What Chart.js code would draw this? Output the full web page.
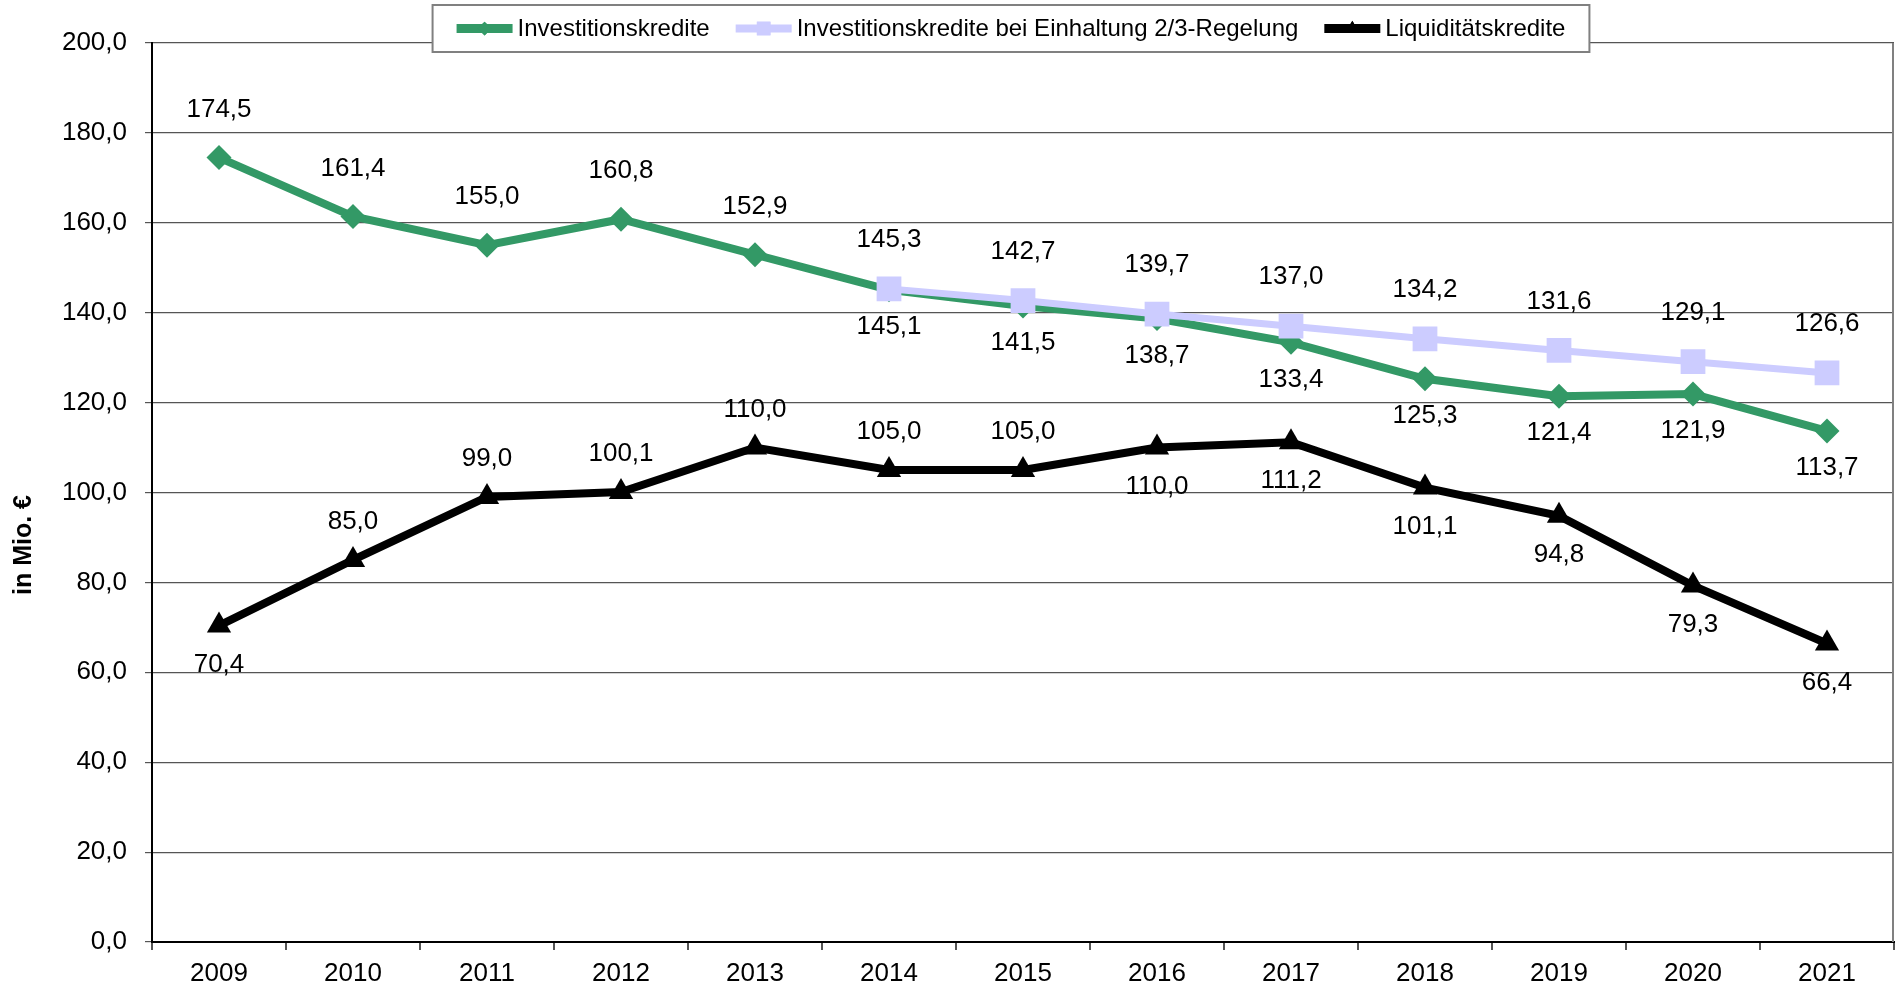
<!DOCTYPE html>
<html>
<head>
<meta charset="utf-8">
<script src="https://cdn.jsdelivr.net/npm/chart.js@4.4.1/dist/chart.umd.min.js"></script>
<style>
  body { margin: 0; background: #fff; }
  canvas { display: block; }
</style>
</head>
<body>
<canvas id="myChart" width="1896" height="990"></canvas>
<script>
// Daten (in Mio. €)
const jahre = ["2009", "2010", "2011", "2012", "2013", "2014", "2015", "2016", "2017", "2018", "2019", "2020", "2021"];
const investitionskredite = [174.5, 161.4, 155.0, 160.8, 152.9, 145.1, 141.5, 138.7, 133.4, 125.3, 121.4, 121.9, 113.7];
const investRegelung = [null, null, null, null, null, 145.3, 142.7, 139.7, 137.0, 134.2, 131.6, 129.1, 126.6];
const liquiditaetskredite = [70.4, 85.0, 99.0, 100.1, 110.0, 105.0, 105.0, 110.0, 111.2, 101.1, 94.8, 79.3, 66.4];

// wo die Beschriftung steht: "o" = oben, "u" = unten
const posInvest = ["o", "o", "o", "o", "o", "u", "u", "u", "u", "u", "u", "u", "u"];
const posRegelung = ["o", "o", "o", "o", "o", "o", "o", "o", "o", "o", "o", "o", "o"];
const posLiquid = ["u", "o", "o", "o", "o", "o", "o", "u", "u", "u", "u", "u", "u"];

const schrift = '"Liberation Sans", Arial, sans-serif';

function komma(v) {
  return v.toFixed(1).replace(".", ",");
}

// Werte an die Punkte schreiben
const wertLabels = {
  id: "wertLabels",
  afterDatasetsDraw(chart) {
    const ctx = chart.ctx;
    ctx.save();
    ctx.font = "26px " + schrift;
    ctx.fillStyle = "#000";
    ctx.textAlign = "center";
    ctx.textBaseline = "middle";
    chart.data.datasets.forEach((ds, i) => {
      const meta = chart.getDatasetMeta(i);
      meta.data.forEach((pt, j) => {
        const v = ds.data[j];
        if (v == null) return;
        const dy = ds.labelPos[j] === "o" ? -ds.abstandOben : ds.abstandUnten;
        ctx.fillText(komma(v), pt.x, pt.y + dy);
      });
    });
    ctx.restore();
  }
};

// Achsentitel, Rahmen rechts + Legende mit Kasten
const rahmenUndLegende = {
  id: "rahmenUndLegende",
  afterDraw(chart) {
    const ctx = chart.ctx;
    const a = chart.chartArea;
    ctx.save();
    ctx.strokeStyle = "#808080";
    ctx.lineWidth = 2;
    ctx.beginPath();
    ctx.moveTo(a.right - 1, a.top);
    ctx.lineTo(a.right - 1, a.bottom);
    ctx.stroke();

    // y-Achsentitel
    ctx.save();
    ctx.translate(24, 545);
    ctx.rotate(-Math.PI / 2);
    ctx.font = "bold 25px " + schrift;
    ctx.fillStyle = "#000";
    ctx.textAlign = "center";
    ctx.textBaseline = "middle";
    ctx.fillText("in Mio. €", 0, 0);
    ctx.restore();

    ctx.font = "24px " + schrift;
    const sample = 56, gap = 5, space = 26, pad = 24;
    const items = chart.data.datasets.map(ds => ({ ds: ds, w: ctx.measureText(ds.label).width }));
    let total = pad * 2 - space;
    items.forEach(it => { total += sample + gap + it.w + space; });
    const boxLeft = 1011 - total / 2;
    const boxTop = 5, boxH = 47;
    ctx.fillStyle = "#fff";
    ctx.fillRect(boxLeft, boxTop, total, boxH);
    ctx.strokeStyle = "#808080";
    ctx.lineWidth = 2;
    ctx.strokeRect(boxLeft, boxTop, total, boxH);

    const cy = boxTop + boxH / 2;
    let x = boxLeft + pad;
    items.forEach(it => {
      const ds = it.ds;
      ctx.strokeStyle = ds.borderColor;
      ctx.lineWidth = ds.borderWidth + 1;
      ctx.beginPath();
      ctx.moveTo(x, cy);
      ctx.lineTo(x + sample, cy);
      ctx.stroke();
      ctx.fillStyle = ds.pointBackgroundColor;
      Chart.helpers.drawPoint(ctx, { pointStyle: ds.pointStyle, radius: ds.pointRadius * 0.55, rotation: 0, borderWidth: 0 }, x + sample / 2, cy);
      ctx.fill();
      ctx.fillStyle = "#000";
      ctx.textAlign = "left";
      ctx.textBaseline = "middle";
      ctx.fillText(ds.label, x + sample + gap, cy + 1);
      x += sample + gap + it.w + space;
    });
    ctx.restore();
  }
};

const data = {
  labels: jahre,
  datasets: [
    {
      label: "Investitionskredite",
      data: investitionskredite,
      labelPos: posInvest,
      abstandOben: 48,
      abstandUnten: 37,
      borderColor: "#339966",
      backgroundColor: "#339966",
      pointBackgroundColor: "#339966",
      pointBorderColor: "#339966",
      borderWidth: 8,
      pointStyle: "rectRot",
      pointRadius: 12.5,
      pointBorderWidth: 0,
      tension: 0,
      order: 1
    },
    {
      label: "Investitionskredite bei Einhaltung 2/3-Regelung",
      data: investRegelung,
      labelPos: posRegelung,
      abstandOben: 49,
      abstandUnten: 40,
      borderColor: "#ccccff",
      backgroundColor: "#ccccff",
      pointBackgroundColor: "#ccccff",
      pointBorderColor: "#ccccff",
      borderWidth: 7,
      pointStyle: "rect",
      pointRadius: 17.5,
      pointBorderWidth: 0,
      tension: 0,
      order: 0
    },
    {
      label: "Liquiditätskredite",
      data: liquiditaetskredite,
      labelPos: posLiquid,
      abstandOben: 38,
      abstandUnten: 39,
      borderColor: "#000000",
      backgroundColor: "#000000",
      pointBackgroundColor: "#000000",
      pointBorderColor: "#000000",
      borderWidth: 8,
      pointStyle: "triangle",
      pointRadius: 14,
      pointBorderWidth: 0,
      tension: 0,
      order: 2
    }
  ]
};

const config = {
  type: "line",
  data,
  options: {
    responsive: false,
    devicePixelRatio: 1,
    animation: false,
    layout: { autoPadding: false, padding: { top: 43, right: 2, left: 0, bottom: 0 } },
    plugins: {
      legend: { display: false },
      tooltip: { enabled: false }
    },
    scales: {
      x: {
        type: "category",
        offset: true,
        grid: { offset: true, drawOnChartArea: false, tickLength: 8, color: "#555", lineWidth: 2 },
        border: { color: "#000", width: 2 },
        ticks: { font: { size: 26, family: schrift }, color: "#000", padding: 8, maxRotation: 0 },
        afterFit(scale) {
          scale.height = 48;
          scale.paddingLeft = 0;
          scale.paddingRight = 0;
        }
      },
      y: {
        min: 0,
        max: 200,
        ticks: {
          stepSize: 20,
          font: { size: 26, family: schrift },
          color: "#000",
          padding: 18,
          callback: v => komma(v)
        },
        grid: { color: "#555", lineWidth: 1.2, tickLength: 7 },
        border: { color: "#000", width: 2 },
        afterFit(scale) { scale.width = 152; }
      }
    }
  },
  plugins: [wertLabels, rahmenUndLegende]
};

const chartDOM = document.getElementById("myChart");
const myChart = new Chart(chartDOM, config);
</script>
</body>
</html>
